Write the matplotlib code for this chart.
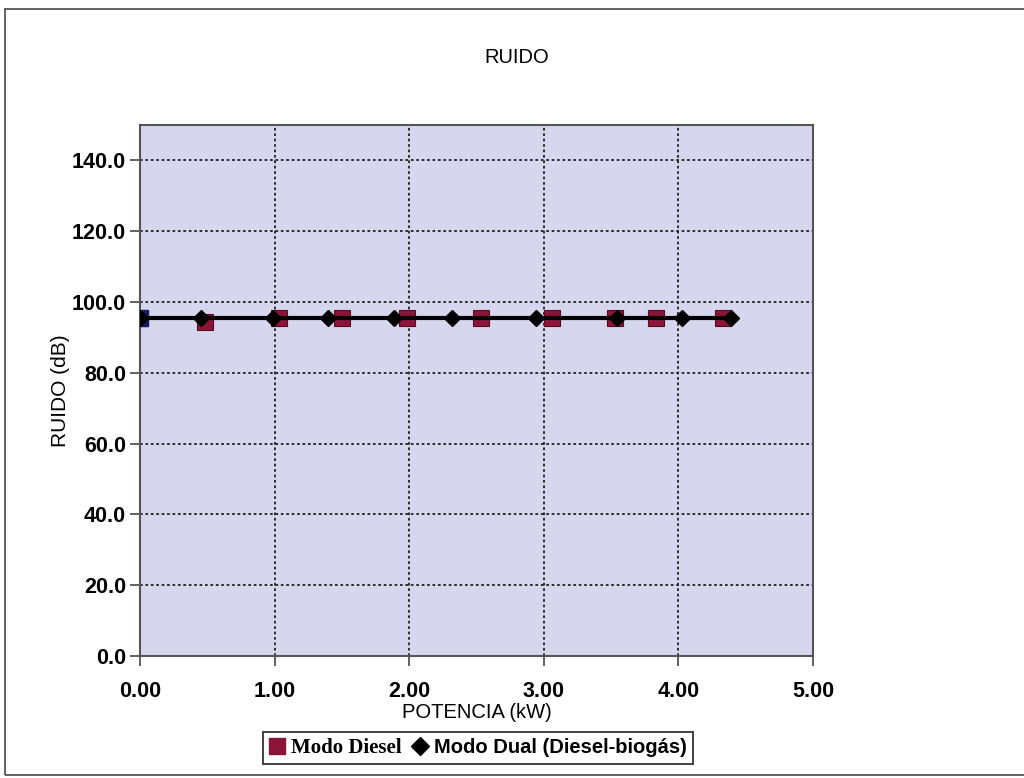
import numpy as np
import matplotlib
matplotlib.use('Agg')
import matplotlib.pyplot as plt
from matplotlib.lines import Line2D
from matplotlib.patches import Rectangle

# datos de ruido
potencia_diesel = [0.00, 0.48, 1.03, 1.50, 1.98, 2.53, 3.06, 3.53, 3.83, 4.33]
ruido_diesel = [95.5, 94.3, 95.5, 95.5, 95.5, 95.5, 95.5, 95.5, 95.5, 95.5]
potencia_dual = [0.00, 0.45, 0.99, 1.40, 1.89, 2.32, 2.94, 3.54, 4.03, 4.39]
ruido_dual = [95.5, 95.5, 95.5, 95.5, 95.5, 95.5, 95.5, 95.5, 95.5, 95.5]

x_ticks = [0, 1, 2, 3, 4, 5]
y_ticks = [0, 20, 40, 60, 80, 100, 120, 140]

plt.rcParams['font.family'] = ['Liberation Sans', 'DejaVu Sans']

fig = plt.figure(figsize=(10.24, 7.78), dpi=100)
fig.patch.set_facecolor('white')
# marco del grafico
fig.patches.append(Rectangle((0.005, 0.004), 1.2, 0.984, transform=fig.transFigure,
                             fill=False, edgecolor='#555555', linewidth=1.3))

ax1 = fig.add_axes([0.1367, 0.1568, 0.6573, 0.6825])
ax1.set_facecolor('#D6D6EE')

ax1.plot(potencia_diesel, ruido_diesel, linestyle='none',
         marker='s', markersize=11, markerfacecolor='#8B1538',
         markeredgecolor='#5a0a20', markeredgewidth=0.8, zorder=3)
ax1.plot(potencia_diesel[0], ruido_diesel[0], marker='s', markersize=11,
         color='#1a1a5e', zorder=3)
ax1.plot(potencia_dual, ruido_dual, color='black', linewidth=3,
         marker='D', markersize=8.5, markerfacecolor='black',
         markeredgecolor='black', zorder=4)

ax1.set_xlim(0, 5)
ax1.set_ylim(0, 150)
ax1.set_xticks(x_ticks)
ax1.set_yticks(y_ticks)
ax1.set_xticklabels(['%.2f' % v for v in x_ticks], fontweight='bold', fontsize=15.5)
ax1.set_yticklabels(['%.1f' % v for v in y_ticks], fontweight='bold', fontsize=15.5)
ax1.tick_params(direction='out', length=7, width=1.3, color='#555555')
ax1.tick_params(axis='x', pad=11)
ax1.tick_params(axis='y', pad=3)

ax1.grid(True, color='#222222', linestyle=(0, (1.5, 1.5)), linewidth=1.3)
ax1.set_axisbelow(True)
for s in ax1.spines.values():
    s.set_color('#555555')
    s.set_linewidth(1.5)

ax1.set_xlabel('POTENCIA (kW)', fontsize=14.5, labelpad=1)
ax1.set_ylabel('RUIDO (dB)', fontsize=15)
ax1.yaxis.set_label_coords(-0.104, 0.5)
fig.text(0.505, 0.926, 'RUIDO', ha='center', va='center', fontsize=14.5)

handles = [Line2D([], [], linestyle='none', marker='s', markersize=12,
                  color='#8B1538'),
           Line2D([], [], linestyle='none', marker='D', markersize=9,
                  color='black')]
leg = fig.legend(handles, ['Modo Diesel', 'Modo Dual (Diesel-biogás)'],
                 loc='center', bbox_to_anchor=(0.467, 0.039), ncol=2,
                 fontsize=14.5, frameon=True, fancybox=False, handlelength=0.8,
                 handletextpad=0.3, columnspacing=0.5, borderpad=0.3)
leg.get_frame().set_edgecolor('black')
leg.get_frame().set_linewidth(1.3)
texts = leg.get_texts()
texts[0].set_fontfamily('Liberation Serif')
texts[0].set_fontweight('bold')
texts[0].set_fontsize(15)
texts[1].set_fontweight('bold')

fig.savefig('out.png', dpi=100)
